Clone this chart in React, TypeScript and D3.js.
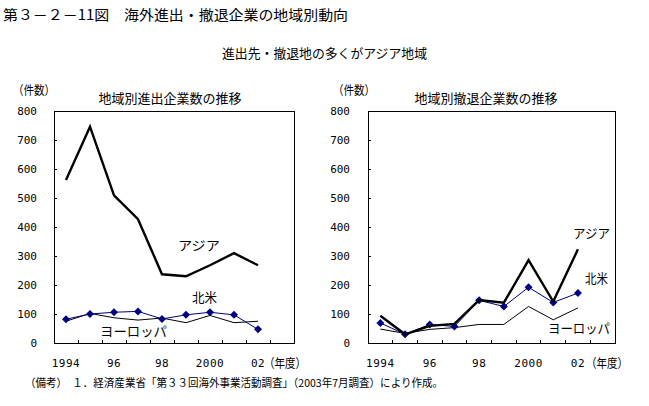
import React from 'react';
import * as d3 from 'd3';

const bandYears = [1994, 1995, 1996, 1997, 1998, 1999, 2000, 2001, 2002, 2003];
const dataYears = [1994, 1995, 1996, 1997, 1998, 1999, 2000, 2001, 2002];
const yTicks = [0, 100, 200, 300, 400, 500, 600, 700, 800];
const xLabelYears = [1994, 1996, 1998, 2000, 2002];
const xLabels = ['1994', '96', '98', '2000', '02'];

const entryAsia = [562, 746, 509, 427, 237, 230, 268, 310, 268];
const entryNorthAmerica = [82, 100, 106, 109, 83, 97, 106, 97, 47];
const entryEurope = [75, 102, 87, 79, 86, 70, 95, 70, 75];

const exitAsia = [94, 30, 59, 66, 148, 139, 286, 143, 323];
const exitNorthAmerica = [69, 30, 64, 57, 147, 126, 192, 140, 172];
const exitEurope = [48, 33, 47, 53, 64, 64, 126, 80, 121];

const JP = '"Noto Sans CJK JP", "Noto Sans CJK SC", sans-serif';
const NUM = '"DejaVu Sans Mono", "Liberation Mono", monospace';
const NAVY = '#000080';

type Lbl = { text: string; x: number; y: number; w: number };

type PanelProps = {
  left: number;
  right: number;
  top: number;
  bottom: number;
  title: string;
  titleX: number;
  unitX: number;
  yLabelX: number;
  nendoX: number;
  asia: number[];
  na: number[];
  eu: number[];
  labels: Lbl[];
};

function Panel(p: PanelProps) {
  const x = d3.scaleBand<number>().domain(bandYears).range([p.left, p.right]);
  const y = d3.scaleLinear().domain([0, 800]).range([p.bottom, p.top]);
  const cx = (yr: number) => (x(yr) as number) + x.bandwidth() / 2;
  const line = d3
    .line<number>()
    .x((_, i) => cx(dataYears[i]))
    .y((d) => y(d));
  return (
    <g>
      <text x={p.unitX} y={95} fontFamily={JP} fontSize={12.5} textLength={42} lengthAdjust="spacingAndGlyphs">（件数）</text>
      <text x={p.titleX} y={103} fontFamily={JP} fontSize={13} textAnchor="middle">{p.title}</text>
      <rect x={p.left} y={p.top} width={p.right - p.left} height={p.bottom - p.top} fill="none" stroke="#000" strokeWidth={1} shapeRendering="crispEdges" />
      {yTicks.map((t) => (
        <g key={t}>
          {t > 0 && t < 800 && (
            <line x1={p.left} x2={p.left + 3} y1={y(t)} y2={y(t)} stroke="#000" shapeRendering="crispEdges" />
          )}
          <text x={p.yLabelX} y={y(t)} dy="0.35em" textAnchor="end" fontFamily={NUM} fontSize={11}>{t}</text>
        </g>
      ))}
      {bandYears.slice(1).map((yr) => (
        <line key={yr} x1={x(yr) as number} x2={x(yr) as number} y1={p.bottom} y2={p.bottom - 3} stroke="#000" shapeRendering="crispEdges" />
      ))}
      {xLabelYears.map((yr, i) => (
        <text key={yr} x={cx(yr)} y={367} textAnchor="middle" fontFamily={NUM} fontSize={11} letterSpacing={0.5}>{xLabels[i]}</text>
      ))}
      <text x={p.nendoX} y={368} fontFamily={JP} fontSize={12.5} textLength={42} lengthAdjust="spacingAndGlyphs">（年度）</text>
      <path d={line(p.eu) || ''} fill="none" stroke="#000" strokeWidth={1} />
      <path d={line(p.na) || ''} fill="none" stroke={NAVY} strokeWidth={1} />
      {p.na.map((v, i) => {
        const px = cx(dataYears[i]);
        const py = y(v);
        const s = 4;
        return <path key={i} d={`M${px},${py - s}L${px + s},${py}L${px},${py + s}L${px - s},${py}Z`} fill={NAVY} />;
      })}
      <path d={line(p.asia) || ''} fill="none" stroke="#000" strokeWidth={2.4} strokeLinejoin="miter" />
      {p.labels.map((l) => (
        <text key={l.text} x={l.x} y={l.y} dy="0.35em" fontFamily={JP} fontSize={13} textLength={l.w} lengthAdjust="spacingAndGlyphs">{l.text}</text>
      ))}
    </g>
  );
}

export default function App() {
  return (
    <svg width={649} height={406} style={{ position: 'absolute', left: 0, top: 0, background: '#fff' }}>
      <rect width={649} height={406} fill="#fff" />
      <text x={3} y={20} fontFamily={JP} fontSize={14} textLength={345} lengthAdjust="spacingAndGlyphs">第３－２－11図　海外進出・撤退企業の地域別動向</text>
      <text x={222} y={58} fontFamily={JP} fontSize={13} textLength={205} lengthAdjust="spacingAndGlyphs">進出先・撤退地の多くがアジア地域</text>
      <Panel
        left={54}
        right={294}
        top={111}
        bottom={343}
        title="地域別進出企業数の推移"
        titleX={170}
        unitX={13}
        yLabelX={37}
        nendoX={264}
        asia={entryAsia}
        na={entryNorthAmerica}
        eu={entryEurope}
        labels={[
          { text: 'アジア', x: 178, y: 245, w: 42 },
          { text: '北米', x: 192, y: 297, w: 25 },
          { text: 'ヨーロッパ', x: 100, y: 331, w: 67 },
        ]}
      />
      <Panel
        left={368}
        right={615}
        top={111}
        bottom={343}
        title="地域別撤退企業数の推移"
        titleX={486}
        unitX={333}
        yLabelX={350}
        nendoX={586}
        asia={exitAsia}
        na={exitNorthAmerica}
        eu={exitEurope}
        labels={[
          { text: 'アジア', x: 573, y: 233, w: 37 },
          { text: '北米', x: 585, y: 278, w: 23 },
          { text: 'ヨーロッパ', x: 548, y: 328, w: 62 },
        ]}
      />
      <text x={25} y={387} fontFamily={JP} fontSize={11} textLength={418} lengthAdjust="spacingAndGlyphs">（備考）　１．経済産業省「第３３回海外事業活動調査」（2003年7月調査）により作成。</text>
    </svg>
  );
}
